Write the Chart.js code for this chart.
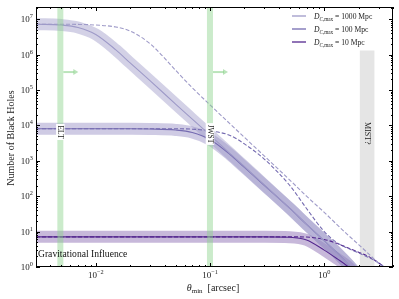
<!DOCTYPE html>
<html>
<head>
<meta charset="utf-8">
<script src="https://cdn.jsdelivr.net/npm/chart.js@4.4.1/dist/chart.umd.min.js"></script>
<style>
  body { margin: 0; background: #fff; }
</style>
</head>
<body>
<canvas id="bhChart" width="399" height="299"></canvas>
<script>
// theta_min grid [arcsec]
const theta = [0.003, 0.005, 0.007, 0.01, 0.015, 0.02, 0.03, 0.05, 0.07, 0.1, 0.15, 0.2, 0.3, 0.5, 0.7, 1.0, 1.3, 1.6, 2.0, 2.5, 3.0, 3.5, 4.0];

// solid curves (with band)
const solid1000 = [7.2e6, 6.8e6, 5.8e6, 3.7e6, 1.35e6, 5.8e5, 1.8e5, 4.0e4, 1.5e4, 5.3e3, 1.6e3, 690, 205, 45, 16, 5.5, 2.5, 1.25, 0.55, null, null, null, null];
const solid100 = [8.0e3, 8.0e3, 8.0e3, 8.0e3, 8.0e3, 8.0e3, 7.9e3, 7.4e3, 6.3e3, 4.0e3, 1.5e3, 650, 200, 45, 16, 5.5, 2.5, 1.25, 0.55, null, null, null, null];
const solid10 = [7.1, 7.1, 7.1, 7.1, 7.1, 7.1, 7.1, 7.1, 7.1, 7.1, 7.1, 7.1, 7.1, 6.9, 5.8, 3.0, 1.7, 1.05, 0.5, null, null, null, null];

// dashed curves
const dashed1000 = [7.2e6, 7.2e6, 7.1e6, 6.8e6, 6.0e6, 4.6e6, 2.0e6, 3.6e5, 1.15e5, 3.8e4, 1.1e4, 4.6e3, 1.35e3, 285, 100, 35, 15.5, 8.2, 4.3, 2.2, 1.25, 0.78, null];
const dashed100 = [8.0e3, 8.0e3, 8.0e3, 8.0e3, 8.0e3, 8.0e3, 8.0e3, 8.0e3, 7.8e3, 7.0e3, 5.2e3, 3.0e3, 1.1e3, 200, 45, 10, 4.8, 3.4, 2.5, 1.8, 1.3, 0.9, null];
const dashed10 = [7.1, 7.1, 7.1, 7.1, 7.1, 7.1, 7.1, 7.1, 7.1, 7.1, 7.1, 7.1, 7.1, 7.1, 7.0, 6.0, 4.6, 3.5, 2.6, 1.9, 1.3, 0.9, null];

const legendLabels = ["1000 Mpc", "100 Mpc", "10 Mpc"];
const xTickValues = [0.01, 0.1, 1];
const xTickExp = ["\u22122", "\u22121", "0"];
const yTickValues = [1, 10, 100, 1e3, 1e4, 1e5, 1e6, 1e7];
const yTickExp = ["0", "1", "2", "3", "4", "5", "6", "7"];

// instrument limits
const limitNames = ["ELT", "JWST"];
const limitTheta = [0.0049, 0.1];
const limitLabelN = [6.5e3, 5.7e3];
const arrowN = 3.2e5;
const mistRange = [2.05, 2.75];
const mistTop = 1.3e6;
const mistLabelN = 6.0e3;

const SERIF = '"Liberation Serif", "DejaVu Serif", serif';
const colors = ["#9e9ac8", "#756bb1", "#54278f"];
const bandColors = ["rgba(158,154,200,0.45)", "rgba(117,107,177,0.35)", "rgba(84,39,143,0.33)"];

const toXY = (arr) => theta.map((t, i) => ({ x: t, y: arr[i] }));

function lineSet(arr, i, dashed) {
  return {
    data: toXY(arr),
    borderColor: colors[i],
    borderWidth: 1.1,
    borderDash: dashed ? [4, 2] : [],
    pointRadius: 0,
    cubicInterpolationMode: "monotone",
    spanGaps: false,
    order: 1,
  };
}
function bandSet(arr, i) {
  return {
    data: toXY(arr),
    borderColor: bandColors[i],
    borderWidth: 12,
    borderJoinStyle: "round",
    pointRadius: 0,
    cubicInterpolationMode: "monotone",
    spanGaps: false,
    order: 2,
  };
}

function richText(ctx, parts, x, y, align) {
  let w = 0;
  parts.forEach((p) => {
    ctx.font = `${p.italic ? "italic " : ""}${p.size}px ${SERIF}`;
    p.w = ctx.measureText(p.t).width;
    w += p.w;
  });
  let cx = align === "right" ? x - w : align === "center" ? x - w / 2 : x;
  ctx.textAlign = "left";
  ctx.textBaseline = "alphabetic";
  parts.forEach((p) => {
    ctx.font = `${p.italic ? "italic " : ""}${p.size}px ${SERIF}`;
    ctx.fillText(p.t, cx, y + (p.dy || 0));
    cx += p.w;
  });
}

function vertLabel(ctx, text, x, y, size, boxed) {
  ctx.save();
  ctx.translate(x, y);
  ctx.rotate(Math.PI / 2);
  ctx.font = `${size}px ${SERIF}`;
  const w = ctx.measureText(text).width;
  if (boxed) {
    ctx.fillStyle = "#fff";
    ctx.fillRect(-w / 2 - 1.5, -size / 2 - 0.5, w + 3, size + 1);
  }
  ctx.fillStyle = "#222";
  ctx.textAlign = "center";
  ctx.textBaseline = "middle";
  ctx.fillText(text, 0, 0.5);
  ctx.restore();
}

const decor = {
  id: "decor",
  beforeDatasetsDraw(chart) {
    const { ctx, chartArea: { bottom }, scales: { x, y } } = chart;
    const x0 = x.getPixelForValue(mistRange[0]);
    const x1 = x.getPixelForValue(mistRange[1]);
    const yt = y.getPixelForValue(mistTop);
    ctx.save();
    ctx.fillStyle = "#e5e5e5";
    ctx.fillRect(x0, yt, x1 - x0, bottom - yt);
    ctx.restore();
  },
  afterDatasetsDraw(chart) {
    const { ctx, chartArea: { left, right, top, bottom }, scales: { x, y } } = chart;
    ctx.save();
    // instrument bands + arrows
    limitTheta.forEach((t, i) => {
      const px = x.getPixelForValue(t);
      ctx.fillStyle = "rgba(140,210,140,0.45)";
      ctx.fillRect(px - 3, top, 6, bottom - top);
      const ay = y.getPixelForValue(arrowN);
      ctx.strokeStyle = "rgba(140,210,140,0.6)";
      ctx.lineWidth = 2;
      ctx.beginPath();
      ctx.moveTo(px + 3, ay);
      ctx.lineTo(px + 14, ay);
      ctx.stroke();
      ctx.fillStyle = "rgba(140,210,140,0.6)";
      ctx.beginPath();
      ctx.moveTo(px + 18, ay);
      ctx.lineTo(px + 13, ay - 3);
      ctx.lineTo(px + 13, ay + 3);
      ctx.closePath();
      ctx.fill();
      vertLabel(ctx, limitNames[i], px, y.getPixelForValue(limitLabelN[i]), 7.5, true);
    });
    const mx = x.getPixelForValue(Math.sqrt(mistRange[0] * mistRange[1]));
    vertLabel(ctx, "MIST?", mx, y.getPixelForValue(mistLabelN), 8, false);

    ctx.fillStyle = "#111";
    richText(ctx, [{ t: "Gravitational Influence", size: 9.6 }], left + 2, bottom - 10, "left");

    // frame
    ctx.strokeStyle = "#000";
    ctx.lineWidth = 1;
    ctx.strokeRect(left + 0.5, top + 0.5, right - left - 1, bottom - top - 1);

    // ticks
    ctx.beginPath();
    for (let d = -3; d <= 0; d++) {
      for (let k = 1; k <= 9; k++) {
        const v = k * Math.pow(10, d);
        if (v < x.min || v > x.max) continue;
        const px = Math.round(x.getPixelForValue(v)) + 0.5;
        const len = k === 1 ? 4 : 2;
        ctx.moveTo(px, bottom); ctx.lineTo(px, bottom - len);
        ctx.moveTo(px, top); ctx.lineTo(px, top + len);
      }
    }
    for (let d = 0; d <= 7; d++) {
      for (let k = 1; k <= 9; k++) {
        const v = k * Math.pow(10, d);
        if (v < y.min || v > y.max) continue;
        const py = Math.round(y.getPixelForValue(v)) + 0.5;
        const len = k === 1 ? 4 : 2;
        ctx.moveTo(left, py); ctx.lineTo(left + len, py);
        ctx.moveTo(right, py); ctx.lineTo(right - len, py);
      }
    }
    ctx.stroke();

    // tick labels
    ctx.fillStyle = "#222";
    xTickValues.forEach((v, i) => {
      richText(ctx, [{ t: "10", size: 9 }, { t: xTickExp[i], size: 6.3, dy: -4 }], x.getPixelForValue(v), bottom + 11, "center");
    });
    yTickValues.forEach((v, i) => {
      richText(ctx, [{ t: "10", size: 9 }, { t: yTickExp[i], size: 6.3, dy: -4 }], left - 3, y.getPixelForValue(v) + 3, "right");
    });

    // axis titles
    richText(ctx, [{ t: "\u03b8", size: 10, italic: true }, { t: "min", size: 7, dy: 2 }, { t: "  [arcsec]", size: 10 }], 213, bottom + 24, "center");
    ctx.save();
    ctx.translate(11, 138);
    ctx.rotate(-Math.PI / 2);
    richText(ctx, [{ t: "Number of Black Holes", size: 10 }], 0, 3, "center");
    ctx.restore();

    // legend
    const rows = [16, 29, 42];
    legendLabels.forEach((lab, i) => {
      ctx.strokeStyle = colors[i];
      ctx.lineWidth = 1.3;
      ctx.beginPath();
      ctx.moveTo(292, rows[i]);
      ctx.lineTo(306, rows[i]);
      ctx.stroke();
      ctx.fillStyle = "#222";
      richText(ctx, [
        { t: "D", size: 7.6, italic: true },
        { t: "C", size: 5.2, italic: true, dy: 1.5 },
        { t: ",max", size: 5.2, dy: 1.5 },
        { t: " = " + lab, size: 7.6 },
      ], 314, rows[i] + 3, "left");
    });
    ctx.restore();
  },
};

new Chart(document.getElementById("bhChart"), {
  type: "line",
  data: {
    datasets: [
      lineSet(solid1000, 0, false),
      lineSet(dashed1000, 0, true),
      lineSet(solid100, 1, false),
      lineSet(dashed100, 1, true),
      lineSet(solid10, 2, false),
      lineSet(dashed10, 2, true),
      bandSet(solid1000, 0),
      bandSet(solid100, 1),
      bandSet(solid10, 2),
    ],
  },
  options: {
    responsive: false,
    animation: false,
    layout: { padding: { left: 36, right: 6, top: 7, bottom: 32 } },
    scales: {
      x: { type: "logarithmic", min: 0.003, max: 4, display: false },
      y: { type: "logarithmic", min: 1, max: 2.2e7, display: false },
    },
    plugins: { legend: { display: false }, tooltip: { enabled: false } },
  },
  plugins: [decor],
});
</script>
</body>
</html>
